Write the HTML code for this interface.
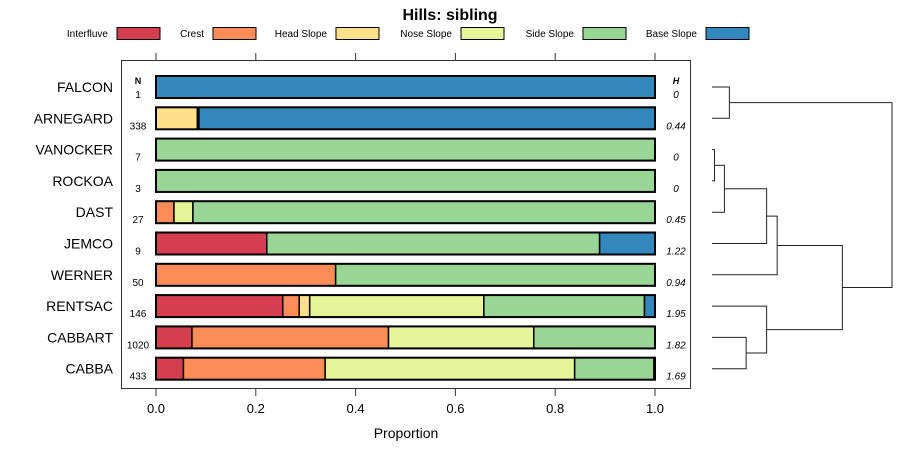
<!DOCTYPE html>
<html><head><meta charset="utf-8"><style>
body{margin:0;background:#fff;}
svg{display:block;font-family:"Liberation Sans",sans-serif;}
</style></head><body>
<svg id="c" width="900" height="460"></svg>
<script>
const categories=["FALCON","ARNEGARD","VANOCKER","ROCKOA","DAST","JEMCO","WERNER","RENTSAC","CABBART","CABBA"];
const nValues=["1","338","7","3","27","9","50","146","1020","433"];
const hValues=["0","0.44","0","0","0.45","1.22","0.94","1.95","1.82","1.69"];
const seriesNames=["Interfluve","Crest","Head Slope","Nose Slope","Side Slope","Base Slope"];
const seriesColors=["#d53e4f","#fc8d59","#fee08b","#e6f598","#99d594","#3288bd"];
const interfluve=[0,0,0,0,0,0.222,0,0.254,0.072,0.055];
const crest=[0,0,0,0,0.036,0,0.36,0.033,0.394,0.284];
const headSlope=[0,0.083,0,0,0,0,0,0.021,0,0];
const noseSlope=[0,0,0,0,0.038,0,0,0.349,0.291,0.500];
const sideSlope=[0,0.003,1,1,0.926,0.667,0.64,0.322,0.243,0.159];
const baseSlope=[1,0.914,0,0,0,0.111,0,0.021,0,0.002];
const series=[interfluve,crest,headSlope,noseSlope,sideSlope,baseSlope];
const ticks=[0,0.2,0.4,0.6,0.8,1.0];
const tickLabels=["0.0","0.2","0.4","0.6","0.8","1.0"];
// dendrogram merges: [left node, right node, height]; leaves are row indices, merged nodes n0..
const merges=[[2,3,0.04],[0,1,0.28],["m0",4,0.2],["m2",5,0.88],["m3",6,1.05],[8,9,0.55],[7,"m5",0.88],["m4","m6",2.1],["m1","m7",2.9]];

const svg=document.getElementById('c');
const NS="http://www.w3.org/2000/svg";
function mk(t,a,p){const e=document.createElementNS(NS,t);for(const k in a)e.setAttribute(k,a[k]);(p||svg).appendChild(e);return e;}
const x0=156,x1=655;
const xs=v=>x0+(x1-x0)*v;
const rowY=i=>87+i*31.3;
const bh=22;

let t=mk('text',{x:450,y:20,'text-anchor':'middle','font-size':16,'font-weight':'bold'});t.textContent="Hills: sibling";



const legX=[108,204,327,452,574,697];
seriesNames.forEach((n,k)=>{
  const g=mk('g',{});
  
  
  const tx=mk('text',{x:legX[k],y:37,'text-anchor':'end','font-size':10},g);tx.textContent=n;
  mk('rect',{x:legX[k]+9,y:27.5,width:43,height:12,fill:seriesColors[k],stroke:'#000','stroke-width':1},g);
});

const frame=mk('rect',{x:121.5,y:60.5,width:569,height:328,fill:'none',stroke:'#333','stroke-width':1});



ticks.forEach((v,k)=>{
  mk('line',{x1:xs(v),x2:xs(v),y1:60,y2:53,stroke:'#333'});
  mk('line',{x1:xs(v),x2:xs(v),y1:389,y2:396,stroke:'#333'});
  const tl=mk('text',{x:xs(v),y:413,'text-anchor':'middle','font-size':13});tl.textContent=tickLabels[k];
  
  
});
t=mk('text',{x:406,y:438,'text-anchor':'middle','font-size':14});t.textContent="Proportion";



t=mk('text',{x:138,y:84,'text-anchor':'middle','font-size':9,'font-weight':'bold'});t.textContent="N";
t=mk('text',{x:676,y:84,'text-anchor':'middle','font-size':9,'font-weight':'bold','font-style':'italic'});t.textContent="H";

categories.forEach((c,i)=>{
  const y=rowY(i);
  const lab=mk('text',{x:113,y:y+5,'text-anchor':'end','font-size':14});lab.textContent=c;
  
  
  const nl=mk('text',{x:138,y:y+11,'text-anchor':'middle','font-size':10});nl.textContent=nValues[i];
  
  
  const hl=mk('text',{x:676,y:y+11,'text-anchor':'middle','font-size':10,'font-style':'italic'});hl.textContent=hValues[i];
  
  
  let cum=0;
  series.forEach((s,k)=>{
    const v=s[i];
    if(v>0){
      const r=mk('rect',{x:xs(cum),y:y-bh/2,width:xs(cum+v)-xs(cum),height:bh,fill:seriesColors[k],stroke:'#000','stroke-width':1.5});
      
      
    }
    cum+=v;
  });
  mk('rect',{x:xs(0),y:y-bh/2,width:xs(1)-xs(0),height:bh,fill:'none',stroke:'#000','stroke-width':2});
});

// dendrogram
const dx0=712,dxScale=(892-712)/2.9;
const nodes={};
categories.forEach((c,i)=>nodes[i]={x:dx0,y:rowY(i)});
merges.forEach((m,k)=>{
  const a=nodes[m[0]],b=nodes[m[1]],hx=dx0+m[2]*dxScale;
  const p=mk('path',{d:`M${a.x},${a.y}H${hx}V${b.y}H${b.x}`,fill:'none',stroke:'#222','stroke-width':1});
  
  
  nodes['m'+k]={x:hx,y:(a.y+b.y)/2};
});
</script>
</body></html>
